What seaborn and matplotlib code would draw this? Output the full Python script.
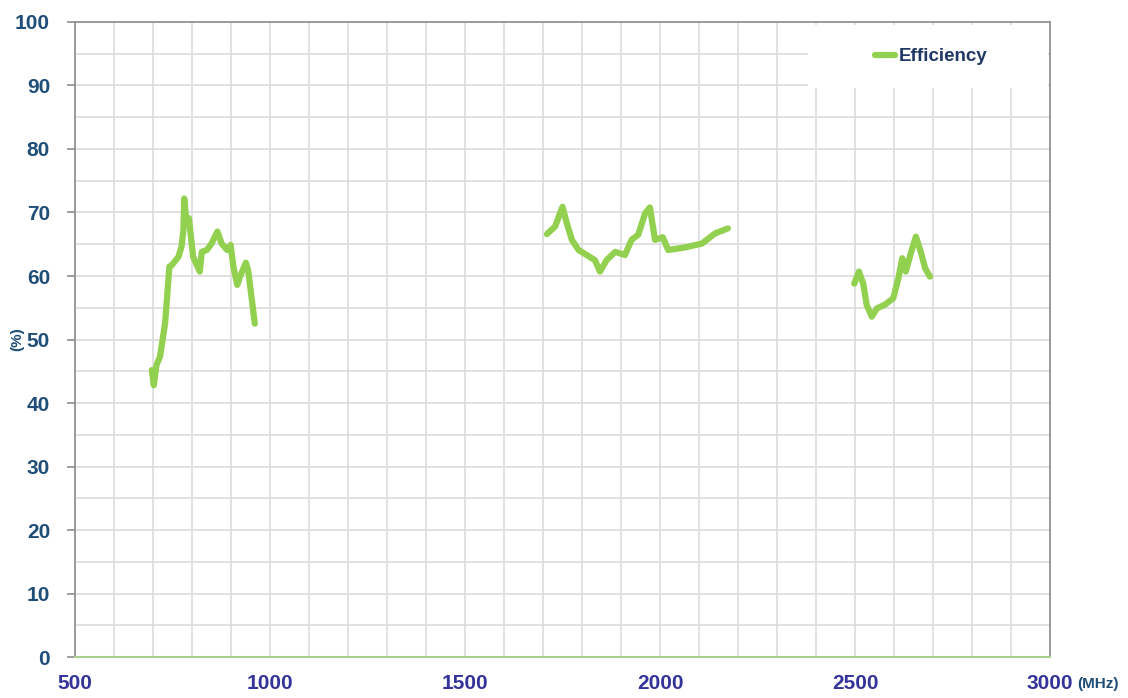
import pandas as pd
import matplotlib.pyplot as plt
import seaborn as sns
from matplotlib.patches import Rectangle
from matplotlib.ticker import MultipleLocator

# efficiency readings (MHz, %) for the three bands
band1_freq = [697, 702, 709, 718, 731, 742, 748, 765, 773, 778, 780, 786, 792,
              803, 820, 825, 838, 850, 865, 876, 890, 899, 906, 916, 923, 938, 944, 961]
band1_eff = [45.2, 42.8, 46.0, 47.3, 52.6, 61.5, 61.7, 63.0, 64.6, 67.2, 72.2, 68.3, 69.1,
             63.0, 60.7, 63.8, 64.1, 65.1, 67.0, 65.1, 64.1, 64.9, 61.5, 58.6, 59.9, 62.1, 60.9, 52.5]

band2_freq = [1710, 1731, 1750, 1761, 1774, 1791, 1833, 1846, 1863, 1885, 1910, 1927,
              1944, 1962, 1974, 1987, 2007, 2021, 2064, 2107, 2141, 2174]
band2_eff = [66.6, 67.8, 70.9, 68.3, 65.7, 64.1, 62.5, 60.7, 62.5, 63.8, 63.3, 65.7,
             66.5, 69.9, 70.8, 65.7, 66.1, 64.1, 64.5, 65.1, 66.7, 67.5]

band3_freq = [2498, 2510, 2521, 2530, 2543, 2556, 2577, 2598, 2611, 2621, 2630, 2644,
              2656, 2667, 2680, 2692]
band3_eff = [58.8, 60.7, 58.8, 55.4, 53.6, 54.9, 55.5, 56.5, 59.6, 62.8, 60.7, 63.8,
             66.2, 64.1, 61.2, 59.9]

x_ticks = [500, 1000, 1500, 2000, 2500, 3000]
y_ticks = list(range(0, 101, 10))

sns.set_theme(style="white")
plt.rcParams['font.family'] = ['Liberation Sans Narrow', 'Liberation Sans', 'DejaVu Sans']

green = '#92d050'
ytick_color = '#1f4e79'
xtick_color = '#333399'

fig = plt.figure(figsize=(11.28, 6.98), dpi=100)
ax = fig.add_axes([0.0665, 0.0587, 0.8644, 0.9098])

bands = [(band1_freq, band1_eff), (band2_freq, band2_eff), (band3_freq, band3_eff)]
for i, (f, e) in enumerate(bands):
    df = pd.DataFrame({'freq': f, 'eff': e})
    sns.lineplot(data=df, x='freq', y='eff', ax=ax, color=green, lw=4.5, sort=False,
                 solid_joinstyle='round', solid_capstyle='round',
                 label='Efficiency' if i == 0 else None, legend=False, zorder=4)

ax.set_xlim(500, 3000)
ax.set_ylim(0, 100)
ax.set_xticks(x_ticks)
ax.set_yticks(y_ticks)
ax.xaxis.set_minor_locator(MultipleLocator(100))
ax.yaxis.set_minor_locator(MultipleLocator(5))
ax.grid(True, which='both', color='#dcdcdc', lw=1.2, zorder=0)
ax.set_axisbelow(True)

for side in ['left', 'top', 'right']:
    ax.spines[side].set_color('#8c8c8c')
    ax.spines[side].set_linewidth(1.2)
ax.spines['bottom'].set_color('#a9d18e')
ax.spines['bottom'].set_linewidth(1.5)

ax.tick_params(axis='y', which='major', left=True, length=6, width=1.2, color='#8c8c8c',
               labelsize=15, labelcolor=ytick_color, pad=12)
ax.tick_params(axis='y', which='minor', left=False)
ax.tick_params(axis='x', which='both', bottom=False, labelsize=15, labelcolor=xtick_color, pad=6)
for lab in ax.get_xticklabels() + ax.get_yticklabels():
    lab.set_fontweight('bold')

ax.set_xlabel('')
ax.set_ylabel('(%)', fontsize=11, fontweight='bold', color=ytick_color, labelpad=2)
ax.yaxis.set_label_coords(-0.052, 0.5)
fig.text(0.955, 0.014, '(MHz)', fontsize=11, fontweight='bold', color=ytick_color, ha='left')

# white legend background box
ax.add_patch(Rectangle((0.752, 0.896), 0.246, 0.099, transform=ax.transAxes,
                       facecolor='white', edgecolor='none', zorder=3))
leg = ax.legend(loc='center left', bbox_to_anchor=(0.803, 0.945), frameon=False,
                handlelength=1.1, handletextpad=0.15, prop={'size': 13.5, 'weight': 'bold'})
for t in leg.get_texts():
    t.set_color('#1f3864')
leg.set_zorder(5)

fig.savefig('out.png', dpi=100, facecolor='white')
